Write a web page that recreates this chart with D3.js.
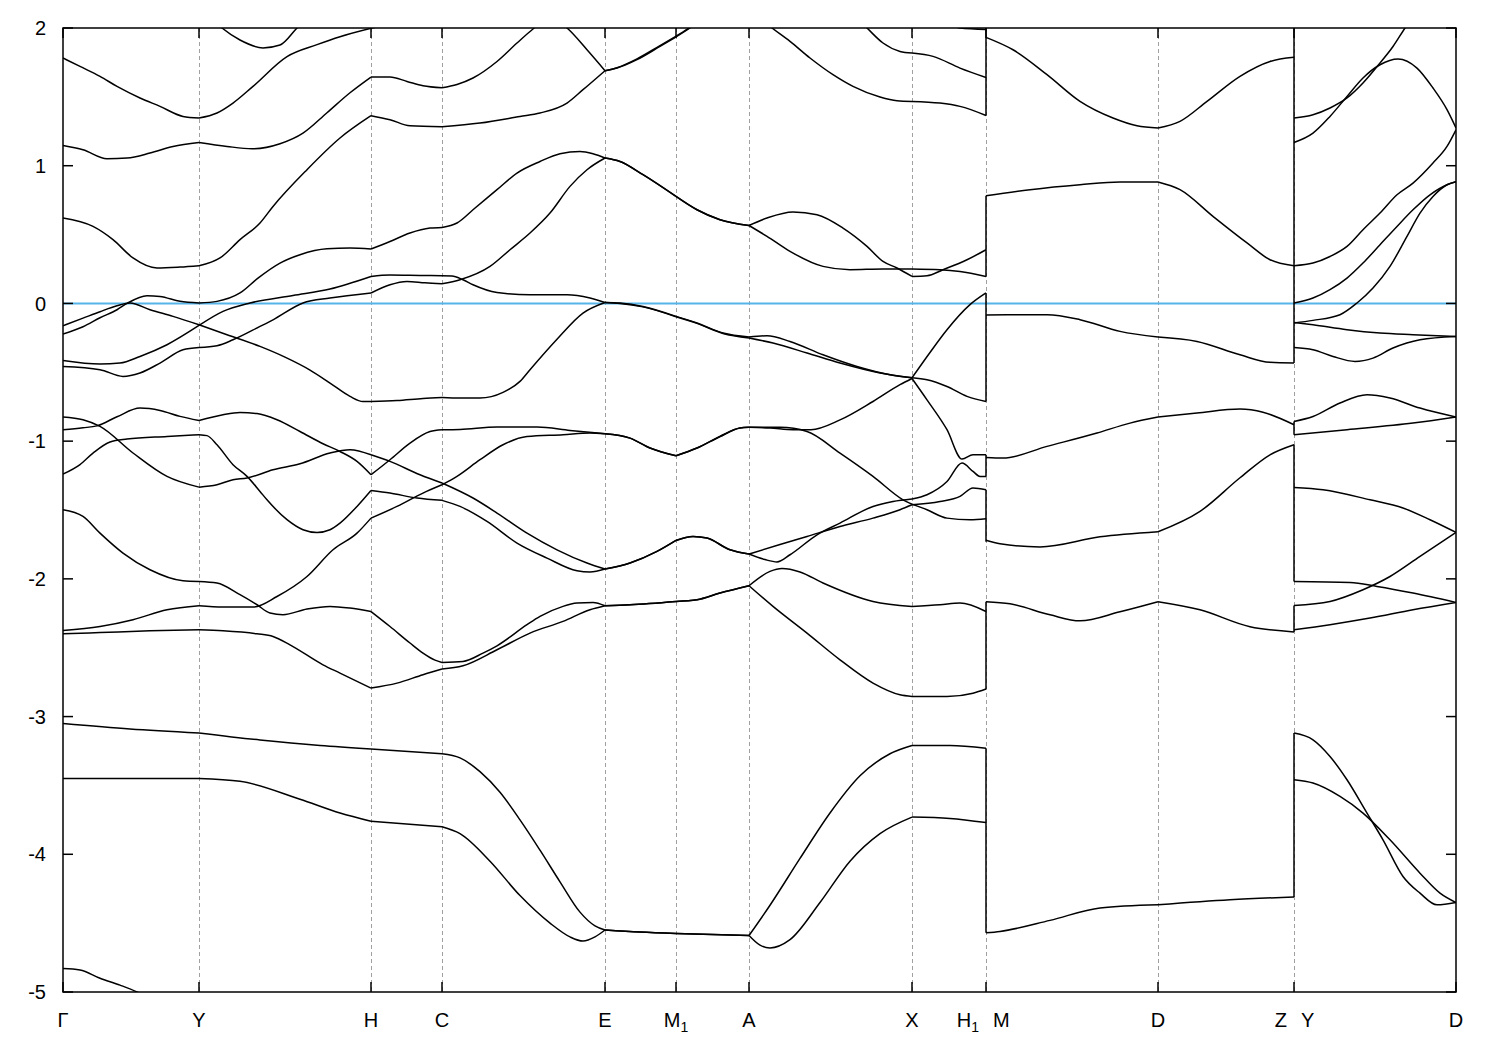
<!DOCTYPE html>
<html><head><meta charset="utf-8">
<script src="https://cdn.jsdelivr.net/npm/d3@7"></script>
<style>body{margin:0;background:#fff} text{font-family:"Liberation Sans",Arial,sans-serif}</style>
</head><body><svg id="c" width="1500" height="1050"></svg>
<script>
// ---- k-path (arbitrary path units) and labels ----
const kTicks  = [0,136,308,379,542,613,686,849,923,1095,1231,1393];
const kLabels = ["Γ","Y","H","C","E","M_1","A","X","H_1|M","D","Z|Y","D"];
const eTicks  = [2,1,0,-1,-2,-3,-4,-5];
const eRange  = [-5,2];
const fermi   = 0;

// ---- bands, segment Γ → H1 : [k, E(eV)] ----
const bandsGammaH1 = [
 [[142,2.12],[159,2.0],[177,1.913],[200,1.855],[217,1.876],[234,2.0],[252,2.13]],
 [[0,1.782],[17,1.721],[37,1.649],[54,1.576],[77,1.492],[97,1.431],[120,1.358],[136,1.346],[154,1.383],[170,1.455],[190,1.576],[224,1.792],[254,1.879],[277,1.937],[308,1.998],[337,2.05],[367,2.12]],
 [[0,1.147],[20,1.116],[44,1.051],[64,1.056],[87,1.092],[110,1.14],[136,1.169],[164,1.14],[189,1.123],[217,1.16],[240,1.237],[264,1.385],[287,1.53],[308,1.644],[327,1.644],[344,1.612],[360,1.581],[379,1.566],[394,1.59],[410,1.637],[434,1.757],[454,1.891],[470,1.993],[487,2.08],[504,2.0],[524,1.842],[542,1.69],[554,1.709],[574,1.77],[597,1.866],[613,1.935],[627,2.0],[642,2.08]],
 [[0,0.62],[30,0.559],[50,0.463],[70,0.33],[94,0.257],[117,0.264],[136,0.274],[157,0.33],[177,0.463],[197,0.584],[210,0.704],[244,0.971],[277,1.201],[308,1.363],[327,1.334],[347,1.29],[379,1.283],[417,1.31],[457,1.358],[477,1.383],[504,1.455],[520,1.552],[542,1.69],[554,1.712],[574,1.776],[597,1.872],[613,1.94],[627,2.005],[642,2.085]],
 [[692,2.1],[709,2.0],[727,1.903],[747,1.782],[770,1.661],[790,1.576],[817,1.499],[834,1.472],[849,1.467],[877,1.455],[897,1.431],[923,1.365]],
 [[787,2.12],[804,2.0],[820,1.891],[837,1.83],[849,1.818],[870,1.794],[897,1.709],[923,1.641]],
 [[877,2.1],[897,2.0],[923,1.99]],
 [[0,-0.222],[20,-0.169],[37,-0.104],[54,-0.046],[64,0],[84,0.056],[97,0.051],[117,0.015],[136,0.003],[154,0.015],[177,0.076],[195,0.184],[217,0.293],[237,0.354],[264,0.397],[287,0.402],[308,0.395],[327,0.45],[347,0.511],[367,0.547],[379,0.552],[394,0.584],[410,0.68],[434,0.826],[454,0.947],[477,1.031],[497,1.087],[517,1.104],[530,1.087],[542,1.056],[557,1.031],[580,0.935],[613,0.777],[634,0.68],[657,0.608],[686,0.566],[704,0.62],[730,0.664],[754,0.644],[780,0.547],[804,0.414],[820,0.305],[834,0.257],[849,0.196],[864,0.201],[880,0.245],[904,0.317],[923,0.39]],
 [[0,-0.458],[37,-0.481],[60,-0.53],[77,-0.505],[97,-0.433],[120,-0.336],[136,-0.32],[154,-0.307],[170,-0.264],[197,-0.167],[210,-0.119],[240,0.003],[267,0.039],[308,0.076],[327,0.136],[344,0.16],[362,0.15],[379,0.143],[397,0.172],[427,0.269],[447,0.39],[467,0.511],[487,0.656],[507,0.85],[524,0.971],[542,1.056],[557,1.031],[580,0.935],[613,0.777],[634,0.68],[657,0.608],[686,0.566],[704,0.487],[727,0.378],[760,0.269],[787,0.245],[820,0.25],[849,0.25],[877,0.245],[897,0.232],[923,0.196]],
 [[0,-0.414],[37,-0.44],[57,-0.433],[77,-0.385],[104,-0.3],[136,-0.16],[160,-0.058],[187,0.003],[230,0.058],[267,0.105],[308,0.196],[327,0.206],[357,0.203],[379,0.201],[389,0.2],[400,0.172],[410,0.136],[434,0.08],[467,0.063],[504,0.063],[527,0.039],[542,0.007],[557,0.003],[580,-0.022],[613,-0.094],[634,-0.142],[660,-0.215],[686,-0.244],[704,-0.235],[727,-0.276],[760,-0.373],[794,-0.458],[827,-0.518],[849,-0.54],[867,-0.356],[884,-0.191],[907,-0.009],[923,0.076]],
 [[0,-0.162],[20,-0.107],[37,-0.06],[54,-0.017],[67,0.003],[87,-0.046],[110,-0.094],[136,-0.155],[164,-0.227],[197,-0.312],[222,-0.39],[247,-0.484],[267,-0.578],[287,-0.675],[300,-0.712],[308,-0.712],[334,-0.705],[360,-0.69],[379,-0.683],[397,-0.687],[417,-0.687],[440,-0.646],[457,-0.566],[467,-0.481],[494,-0.26],[520,-0.07],[542,0.007],[557,0.0],[580,-0.025],[613,-0.097],[634,-0.145],[660,-0.218],[686,-0.251],[710,-0.288],[744,-0.36],[777,-0.433],[817,-0.505],[849,-0.54],[864,-0.554],[884,-0.603],[904,-0.675],[923,-0.712]],
 [[0,-0.917],[20,-0.903],[34,-0.889],[54,-0.823],[77,-0.76],[97,-0.777],[117,-0.82],[136,-0.85],[160,-0.808],[177,-0.792],[194,-0.8],[214,-0.845],[237,-0.93],[260,-1.019],[277,-1.075],[294,-1.147],[308,-1.244],[327,-1.135],[347,-1.014],[367,-0.93],[379,-0.917],[397,-0.915],[434,-0.898],[474,-0.898],[507,-0.922],[542,-0.946],[567,-0.978],[587,-1.05],[613,-1.106],[634,-1.05],[657,-0.966],[677,-0.905],[686,-0.9],[707,-0.905],[730,-0.917],[748,-0.917],[777,-0.846],[810,-0.712],[837,-0.59],[849,-0.545],[864,-0.70],[884,-0.917],[899,-1.13],[910,-1.099],[923,-1.099]],
 [[0,-2.375],[37,-2.346],[70,-2.297],[104,-2.224],[136,-2.195],[160,-2.205],[190,-2.205],[214,-2.128],[244,-1.983],[270,-1.789],[294,-1.668],[308,-1.559],[334,-1.474],[360,-1.377],[379,-1.317],[394,-1.256],[417,-1.135],[440,-1.026],[464,-0.966],[500,-0.953],[527,-0.941],[542,-0.946],[567,-0.978],[587,-1.05],[613,-1.106],[634,-1.05],[657,-0.966],[677,-0.905],[686,-0.9],[717,-0.9],[744,-0.93],[777,-1.087],[810,-1.256],[840,-1.426],[864,-1.498],[884,-1.559],[907,-1.571],[923,-1.564]],
 [[0,-0.825],[20,-0.845],[37,-0.893],[70,-1.086],[104,-1.256],[136,-1.334],[154,-1.317],[170,-1.28],[184,-1.268],[210,-1.208],[237,-1.164],[267,-1.086],[287,-1.062],[308,-1.099],[327,-1.147],[357,-1.244],[379,-1.304],[410,-1.413],[434,-1.522],[464,-1.668],[494,-1.789],[524,-1.885],[542,-1.929],[567,-1.885],[594,-1.801],[613,-1.721],[630,-1.692],[644,-1.704],[667,-1.789],[686,-1.82],[717,-1.751],[744,-1.692],[777,-1.62],[810,-1.559],[837,-1.498],[849,-1.462],[877,-1.438],[897,-1.401],[910,-1.34],[923,-1.353]],
 [[0,-1.239],[17,-1.17],[30,-1.087],[47,-1.006],[64,-0.985],[104,-0.966],[136,-0.953],[144,-0.96],[154,-1.026],[170,-1.171],[184,-1.256],[197,-1.365],[204,-1.426],[224,-1.57],[240,-1.643],[254,-1.663],[267,-1.643],[277,-1.595],[294,-1.474],[308,-1.358],[327,-1.377],[354,-1.413],[379,-1.43],[397,-1.474],[424,-1.583],[454,-1.74],[484,-1.849],[514,-1.941],[527,-1.95],[542,-1.929],[567,-1.885],[594,-1.801],[613,-1.721],[630,-1.692],[644,-1.704],[667,-1.789],[686,-1.82],[702,-1.86],[714,-1.877],[727,-1.825],[754,-1.68],[777,-1.595],[810,-1.474],[830,-1.438],[849,-1.42],[864,-1.389],[884,-1.293],[899,-1.159],[910,-1.22],[917,-1.256],[923,-1.256]],
 [[0,-1.498],[20,-1.547],[37,-1.668],[60,-1.813],[87,-1.934],[120,-2.014],[136,-2.019],[154,-2.03],[177,-2.115],[194,-2.188],[207,-2.248],[220,-2.26],[244,-2.219],[267,-2.2],[287,-2.212],[308,-2.237],[327,-2.346],[347,-2.466],[360,-2.539],[372,-2.59],[379,-2.607],[400,-2.6],[420,-2.539],[434,-2.486],[464,-2.333],[477,-2.273],[500,-2.2],[514,-2.176],[530,-2.171],[542,-2.195],[567,-2.188],[613,-2.164],[634,-2.152],[657,-2.103],[686,-2.05],[707,-1.946],[719,-1.925],[737,-1.95],[760,-2.03],[810,-2.164],[849,-2.2],[877,-2.188],[897,-2.176],[923,-2.237]],
 [[0,-2.399],[37,-2.39],[87,-2.377],[136,-2.37],[160,-2.377],[194,-2.399],[210,-2.418],[227,-2.479],[260,-2.624],[277,-2.684],[308,-2.793],[334,-2.757],[360,-2.696],[379,-2.655],[400,-2.631],[434,-2.515],[467,-2.394],[500,-2.309],[527,-2.224],[542,-2.195],[567,-2.188],[613,-2.164],[634,-2.152],[657,-2.103],[686,-2.05],[710,-2.2],[744,-2.394],[777,-2.588],[810,-2.757],[837,-2.842],[849,-2.854],[884,-2.854],[910,-2.83],[923,-2.8]],
 [[0,-3.05],[67,-3.09],[136,-3.119],[197,-3.17],[257,-3.21],[308,-3.235],[379,-3.27],[397,-3.3],[417,-3.4],[437,-3.55],[457,-3.75],[477,-3.97],[497,-4.2],[517,-4.42],[532,-4.52],[542,-4.55],[577,-4.565],[613,-4.575],[686,-4.59],[707,-4.37],[737,-4.03],[767,-3.7],[797,-3.43],[827,-3.27],[849,-3.21],[887,-3.21],[923,-3.23]],
 [[0,-3.45],[136,-3.45],[177,-3.47],[237,-3.6],[277,-3.7],[308,-3.76],[379,-3.8],[397,-3.85],[427,-4.05],[457,-4.3],[487,-4.5],[507,-4.6],[520,-4.63],[532,-4.6],[542,-4.55],[577,-4.565],[613,-4.575],[686,-4.59],[697,-4.66],[707,-4.68],[727,-4.62],[757,-4.35],[787,-4.05],[817,-3.85],[849,-3.73],[887,-3.74],[923,-3.77]],
 [[0,-4.83],[17,-4.84],[37,-4.9],[57,-4.95],[74,-5.0],[97,-5.1]]
];

// ---- bands, segment M → Z ----
const bandsMZ = [
 [[923,1.932],[950,1.842],[984,1.661],[1017,1.467],[1050,1.346],[1074,1.29],[1095,1.274],[1117,1.322],[1144,1.467],[1177,1.649],[1207,1.757],[1231,1.787]],
 [[923,0.782],[967,0.826],[1017,0.862],[1057,0.882],[1095,0.882],[1117,0.826],[1150,0.632],[1184,0.439],[1207,0.317],[1231,0.274]],
 [[923,-0.084],[984,-0.082],[1017,-0.118],[1057,-0.203],[1095,-0.244],[1134,-0.276],[1177,-0.373],[1207,-0.428],[1231,-0.433]],
 [[923,-1.118],[940,-1.123],[984,-1.038],[1034,-0.941],[1067,-0.869],[1095,-0.825],[1134,-0.796],[1177,-0.767],[1200,-0.79],[1231,-0.881]],
 [[923,-1.72],[937,-1.745],[977,-1.768],[1037,-1.695],[1095,-1.658],[1137,-1.51],[1177,-1.266],[1207,-1.099],[1231,-1.026]],
 [[923,-2.166],[947,-2.181],[987,-2.261],[1017,-2.305],[1057,-2.239],[1095,-2.166],[1137,-2.225],[1187,-2.348],[1231,-2.385]],
 [[923,-4.57],[937,-4.56],[987,-4.48],[1037,-4.39],[1095,-4.367],[1167,-4.33],[1231,-4.31]]
];

// ---- bands, segment Y → D ----
const bandsYD = [
 [[1231,1.346],[1250,1.37],[1267,1.419],[1284,1.492],[1300,1.601],[1317,1.746],[1330,1.866],[1342,2.0],[1357,2.15]],
 [[1231,1.169],[1250,1.237],[1267,1.358],[1284,1.503],[1300,1.637],[1317,1.733],[1335,1.775],[1354,1.709],[1370,1.564],[1384,1.407],[1393,1.274]],
 [[1231,0.274],[1250,0.293],[1267,0.341],[1284,0.414],[1300,0.535],[1317,0.656],[1334,0.789],[1350,0.874],[1370,1.02],[1384,1.14],[1393,1.261]],
 [[1231,0.003],[1250,0.039],[1267,0.1],[1284,0.184],[1300,0.293],[1317,0.426],[1334,0.559],[1350,0.68],[1367,0.789],[1384,0.862],[1393,0.884]],
 [[1231,-0.142],[1250,-0.123],[1277,-0.082],[1294,0.003],[1310,0.112],[1327,0.269],[1344,0.487],[1357,0.656],[1370,0.777],[1384,0.862],[1393,0.884]],
 [[1231,-0.138],[1250,-0.155],[1284,-0.191],[1317,-0.215],[1350,-0.227],[1393,-0.24]],
 [[1231,-0.32],[1250,-0.336],[1270,-0.385],[1292,-0.421],[1310,-0.397],[1330,-0.324],[1357,-0.264],[1393,-0.24]],
 [[1231,-0.857],[1250,-0.821],[1277,-0.723],[1304,-0.663],[1327,-0.687],[1357,-0.76],[1393,-0.825]],
 [[1231,-0.953],[1284,-0.917],[1350,-0.869],[1393,-0.825]],
 [[1231,-1.336],[1260,-1.353],[1307,-1.426],[1340,-1.486],[1367,-1.571],[1393,-1.663]],
 [[1231,-2.019],[1287,-2.026],[1314,-2.055],[1350,-2.103],[1393,-2.171]],
 [[1231,-2.193],[1267,-2.164],[1300,-2.079],[1327,-1.983],[1357,-1.837],[1393,-1.663]],
 [[1231,-2.37],[1267,-2.333],[1307,-2.285],[1350,-2.224],[1393,-2.171]],
 [[1231,-3.12],[1250,-3.169],[1267,-3.29],[1284,-3.459],[1304,-3.701],[1320,-3.895],[1340,-4.161],[1357,-4.282],[1374,-4.367],[1393,-4.35]],
 [[1231,-3.459],[1250,-3.483],[1277,-3.58],[1300,-3.701],[1327,-3.895],[1357,-4.137],[1377,-4.282],[1393,-4.35]]
];

// ---- vertical joins at the path breaks [E from, E to] ----
const jumpsH1M = [[2.3,1.365],[0.782,0.196],[0.076,-0.712],[-1.099,-1.256],[-1.353,-1.731],[-2.166,-2.8],[-3.23,-4.57]];
const jumpsZY  = [[2.3,-0.433],[-0.857,-0.953],[-1.026,-2.019],[-2.193,-2.385],[-3.12,-4.31]];
const jumpK = {H1M: 923, ZY: 1231};

// ================= drawing =================
const svg = d3.select("#c");
const L = 63, R = 1456, T = 28, B = 992;
const x = d3.scaleLinear().domain([kTicks[0], kTicks[kTicks.length-1]]).range([L, R]);
const y = d3.scaleLinear().domain(eRange).range([B, T]);

svg.append("defs").append("clipPath").attr("id","clip")
  .append("rect").attr("x",L).attr("y",T).attr("width",R-L).attr("height",B-T);

// dashed high-symmetry lines
svg.append("g").selectAll("line").data(kTicks.slice(1,-1)).join("line")
  .attr("x1",d=>x(d)+0.5).attr("x2",d=>x(d)+0.5).attr("y1",T).attr("y2",B)
  .attr("stroke","#a0a0a0").attr("stroke-width",1).attr("stroke-dasharray","4,3");

const plot = svg.append("g").attr("clip-path","url(#clip)");

// Fermi level
plot.append("line").attr("x1",L).attr("x2",R).attr("y1",y(fermi)).attr("y2",y(fermi))
  .attr("stroke","#56b4e9").attr("stroke-width",2);

const line = d3.line().x(d=>x(d[0])).y(d=>y(d[1])).curve(d3.curveMonotoneX);
function pieces(band){
  const out=[]; let cur=[band[0]];
  for(let i=1;i<band.length;i++){
    cur.push(band[i]);
    if(kTicks.includes(band[i][0]) && i<band.length-1){ out.push(cur); cur=[band[i]]; }
  }
  out.push(cur);
  return out.filter(p=>p.length>=2);
}
const allPieces = [...bandsGammaH1, ...bandsMZ, ...bandsYD].flatMap(pieces);
plot.append("g").selectAll("path").data(allPieces).join("path")
  .attr("d",line).attr("fill","none").attr("stroke","#000").attr("stroke-width",1.5)
  .attr("stroke-linejoin","round");

const jumps = [...jumpsH1M.map(j=>[jumpK.H1M,...j]), ...jumpsZY.map(j=>[jumpK.ZY,...j])];
plot.append("g").selectAll("line").data(jumps).join("line")
  .attr("x1",d=>x(d[0])).attr("x2",d=>x(d[0])).attr("y1",d=>y(d[1])).attr("y2",d=>y(d[2]))
  .attr("stroke","#000").attr("stroke-width",1.5);

// frame
svg.append("rect").attr("x",L).attr("y",T).attr("width",R-L).attr("height",B-T)
  .attr("fill","none").attr("stroke","#000").attr("stroke-width",1.5);

// ticks
const tk = svg.append("g").attr("stroke","#000").attr("stroke-width",1.5);
eTicks.forEach(e=>{
  tk.append("line").attr("x1",L).attr("x2",L+10).attr("y1",y(e)).attr("y2",y(e));
  tk.append("line").attr("x1",R).attr("x2",R-10).attr("y1",y(e)).attr("y2",y(e));
});
kTicks.forEach(k=>{
  tk.append("line").attr("x1",x(k)).attr("x2",x(k)).attr("y1",T).attr("y2",T+10);
  tk.append("line").attr("x1",x(k)).attr("x2",x(k)).attr("y1",B).attr("y2",B-10);
});

// y labels
svg.append("g").selectAll("text").data(eTicks).join("text")
  .attr("x",46).attr("y",d=>y(d)).attr("dy","0.36em").attr("text-anchor","end")
  .attr("font-size",20).text(d=>d);

// x labels
function writeLabel(t, s){
  const m = s.split("_");
  t.append("tspan").text(m[0]);
  if(m.length>1){ t.append("tspan").attr("font-size",14).attr("dy",5).text(m[1]); }
}
const xl = svg.append("g").attr("font-size",20);
kTicks.forEach((k,i)=>{
  const s = kLabels[i];
  if(s.includes("|")){
    const [a,b] = s.split("|");
    writeLabel(xl.append("text").attr("x",x(k)-7).attr("y",1027).attr("text-anchor","end"), a);
    writeLabel(xl.append("text").attr("x",x(k)+7).attr("y",1027).attr("text-anchor","start"), b);
  } else {
    writeLabel(xl.append("text").attr("x",x(k)).attr("y",1027).attr("text-anchor","middle"), s);
  }
});
</script></body></html>
